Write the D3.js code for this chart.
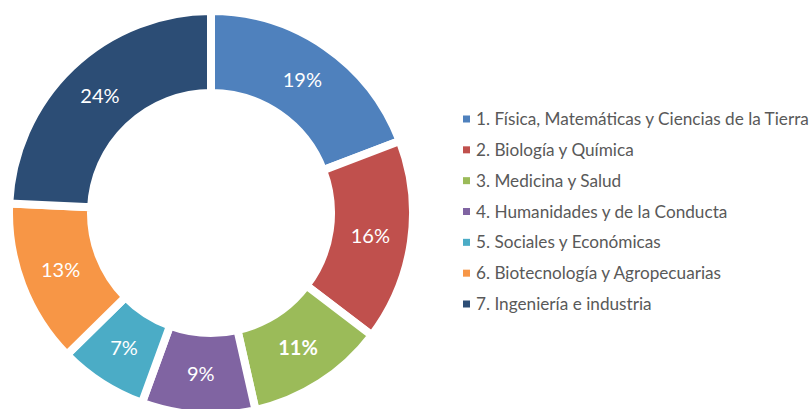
<!DOCTYPE html>
<html><head><meta charset="utf-8">
<script src="https://cdn.jsdelivr.net/npm/d3@7"></script>
<style>html,body{margin:0;padding:0;background:#fff;}svg{display:block;}</style>
</head><body>
<script>
const categories = ["1. Física, Matemáticas y Ciencias de la Tierra","2. Biología y Química","3. Medicina y Salud","4. Humanidades y de la Conducta","5. Sociales y Económicas","6. Biotecnología y Agropecuarias","7. Ingeniería e industria"];
const values = [19,16,11,9,7,13,24];
const labels = ["19%","16%","11%","9%","7%","13%","24%"];
const colors = ["#4F81BD","#C0504D","#9BBB59","#8064A2","#4BACC6","#F79646","#2C4D75"];
const boldLabel = [false,false,true,false,false,false,false];

const W=811,H=409;
const svg=d3.select("body").append("svg").attr("width",W).attr("height",H);
svg.append("rect").attr("width",W).attr("height",H).attr("fill","#fff");

const cx=211, cy=213, rOut=202, rIn=120;
const pie=d3.pie().sort(null).value(d=>d);
const arcs=pie(values);
const arc=d3.arc().innerRadius(rIn).outerRadius(rOut);
const g=svg.append("g").attr("transform",`translate(${cx},${cy})`);
g.selectAll("path").data(arcs).join("path")
  .attr("d",arc).attr("fill",(d,i)=>colors[i])
  .attr("stroke","#fff").attr("stroke-width",8).attr("stroke-linejoin","miter");
g.selectAll("text").data(arcs).join("text")
  .attr("transform",d=>`translate(${arc.centroid(d)})`)
  .attr("text-anchor","middle").attr("dy","0.35em")
  .attr("font-family","Lato, 'Open Sans', sans-serif").attr("font-size",20)
  .attr("font-weight",(d,i)=>boldLabel[i]?"bold":"normal")
  .attr("fill","#fff").text((d,i)=>labels[i]);

const y=d3.scalePoint().domain(categories).range([119,304]);
const lg=svg.append("g");
const rows=lg.selectAll("g").data(categories).join("g").attr("transform",d=>`translate(463,${y(d)})`);
rows.append("rect").attr("x",0).attr("y",-3.5).attr("width",7).attr("height",7).attr("fill",(d,i)=>colors[i]);
rows.append("text").attr("x",13).attr("dy","0.35em")
  .attr("font-family","Lato, 'Open Sans', sans-serif").attr("font-size",17.2)
  .attr("fill","#595959").text(d=>d);
</script>
</body></html>
